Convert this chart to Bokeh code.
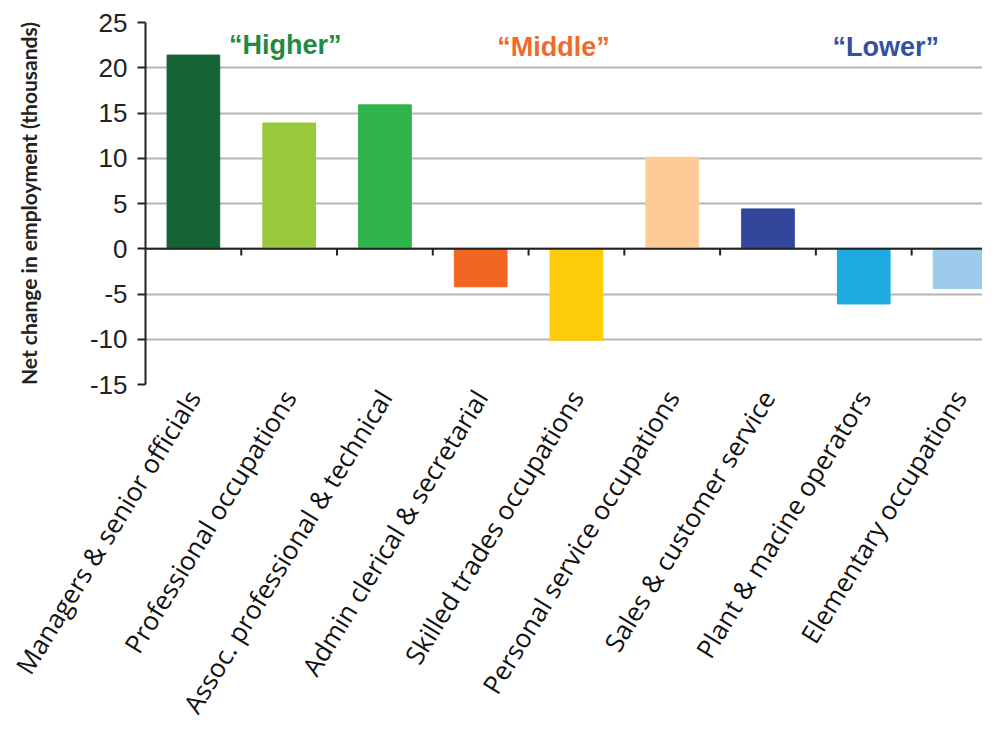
from bokeh.plotting import figure
from bokeh.models import Range1d, FixedTicker, Span, ColumnDataSource
from bokeh.core.properties import value
from bokeh.embed import file_html
from bokeh.resources import INLINE

categories = ["Managers & senior officials", "Professional occupations",
              "Assoc. professional & technical", "Admin clerical & secretarial",
              "Skilled trades occupations", "Personal service occupations",
              "Sales & customer service", "Plant & macine operators",
              "Elementary occupations"]
values = [21.4, 13.9, 15.9, -4.2, -10.1, 10.1, 4.4, -6.1, -4.4]
colors = ["#146332", "#9ac83c", "#2fb34b", "#f26522", "#fecb08",
          "#fdcb98", "#32469b", "#1ea9e1", "#9ccbeb"]
y_ticks = [-15, -10, -5, 0, 5, 10, 15, 20, 25]

group_labels = ["\u201cHigher\u201d", "\u201cMiddle\u201d", "\u201cLower\u201d"]
group_x = [1.46, 4.26, 7.73]
group_y = [22.5, 22.3, 22.3]
group_colors = ["#1f8a43", "#f26a2b", "#3350a3"]

n = len(categories)
centers = [i + 0.5 for i in range(n)]
bounds = [i for i in range(1, n)]

p = figure(width=982, height=732, output_backend="svg", toolbar_location=None,
           x_range=Range1d(0, 8.74), y_range=Range1d(-15, 25),
           min_border_left=145, min_border_right=0, min_border_top=22,
           min_border_bottom=347)
p.outline_line_color = None
p.background_fill_color = "white"

src = ColumnDataSource(dict(x=centers, top=values, color=colors))
p.vbar(x="x", top="top", bottom=0, width=0.55, color="color", source=src)

# zero line with category ticks
p.add_layout(Span(location=0, dimension="width", line_color="#222222", line_width=2))
p.segment(x0=bounds, x1=bounds, y0=[0] * len(bounds), y1=[-0.75] * len(bounds),
          line_color="#222222", line_width=2)

p.text(x=group_x, y=group_y, text=group_labels, text_color=group_colors,
       text_font=value("Liberation Sans"),
       text_font_style="bold", text_font_size="27px",
       text_align="center", text_baseline="middle")

# y axis
yax = p.yaxis[0]
yax.ticker = FixedTicker(ticks=y_ticks)
yax.major_label_overrides = {t: str(t) for t in y_ticks}
yax.axis_line_color = "#222222"
yax.axis_line_width = 2
yax.major_tick_line_color = "#222222"
yax.major_tick_line_width = 2
yax.major_tick_out = 8
yax.major_tick_in = 0
yax.minor_tick_line_color = None
yax.major_label_text_font = "Liberation Sans"
yax.major_label_text_font_size = "26px"
yax.major_label_text_color = "#222222"
yax.major_label_standoff = 10
yax.axis_label = "Net change in employment (thousands)"
yax.axis_label_text_font = "Lato"
yax.axis_label_text_font_style = "bold"
yax.axis_label_text_font_size = "21px"
yax.axis_label_text_color = "#222222"
yax.axis_label_standoff = 46

p.ygrid.ticker = FixedTicker(ticks=y_ticks)
p.ygrid.grid_line_color = "#b5b5b5"
p.ygrid.grid_line_width = 2
p.xgrid.grid_line_color = None

# x axis with category labels
xax = p.xaxis[0]
xax.ticker = FixedTicker(ticks=centers)
xax.major_label_overrides = {c: lab for c, lab in zip(centers, categories)}
xax.major_label_orientation = 1.02
xax.axis_line_color = None
xax.major_tick_line_color = None
xax.minor_tick_line_color = None
xax.major_label_text_font = "Open Sans"
xax.major_label_text_font_size = "26px"
xax.major_label_text_color = "#111111"
xax.major_label_standoff = 2

open("out.html", "w").write(file_html(p, INLINE))
